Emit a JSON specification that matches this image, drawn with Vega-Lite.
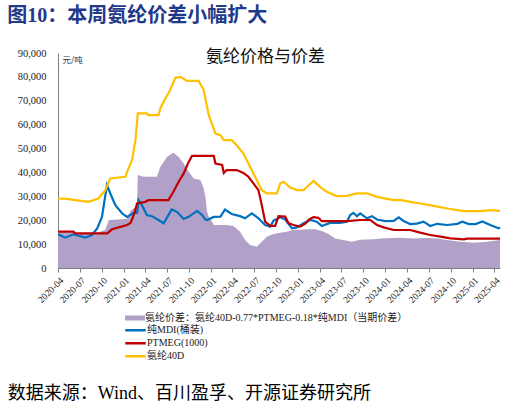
{
  "$schema": "https://vega.github.io/schema/vega-lite/v6.json",
  "width": 442,
  "height": 215,
  "padding": {"left": 7, "top": 6, "right": 5, "bottom": 4},
  "background": "white",
  "title": {"text": "图10：本周氨纶价差小幅扩大", "anchor": "start", "frame": "bounds", "font": "Liberation Serif, Noto Sans CJK SC", "fontSize": 20, "fontWeight": "bold", "color": "#1F3A8A", "offset": 22},
  "config": {"view": {"stroke": null}},
  "datasets": {
    "spread": [
      {"date": "2020-04-01", "value": 14900}, {"date": "2020-05-01", "value": 15000}, {"date": "2020-06-12", "value": 14800},
      {"date": "2020-08-07", "value": 14200}, {"date": "2020-09-17", "value": 14900}, {"date": "2020-10-02", "value": 15500},
      {"date": "2020-10-16", "value": 15900}, {"date": "2020-10-30", "value": 20000}, {"date": "2020-11-06", "value": 20100},
      {"date": "2020-12-11", "value": 20300}, {"date": "2021-01-08", "value": 20500}, {"date": "2021-01-15", "value": 20500},
      {"date": "2021-01-30", "value": 24000}, {"date": "2021-02-19", "value": 25500}, {"date": "2021-02-26", "value": 26000},
      {"date": "2021-03-01", "value": 38900}, {"date": "2021-03-25", "value": 38200}, {"date": "2021-05-20", "value": 38200},
      {"date": "2021-06-03", "value": 42300}, {"date": "2021-07-01", "value": 46500}, {"date": "2021-07-28", "value": 48200},
      {"date": "2021-08-19", "value": 46500}, {"date": "2021-09-09", "value": 43700}, {"date": "2021-09-30", "value": 40300},
      {"date": "2021-10-21", "value": 37500}, {"date": "2021-11-18", "value": 36800}, {"date": "2021-12-02", "value": 33300},
      {"date": "2021-12-09", "value": 29800}, {"date": "2021-12-16", "value": 23500}, {"date": "2021-12-23", "value": 21400},
      {"date": "2022-01-06", "value": 19400}, {"date": "2022-01-13", "value": 18000}, {"date": "2022-02-10", "value": 18000},
      {"date": "2022-03-08", "value": 18000}, {"date": "2022-04-05", "value": 17600}, {"date": "2022-05-03", "value": 15200},
      {"date": "2022-05-24", "value": 11700}, {"date": "2022-06-14", "value": 9600}, {"date": "2022-07-12", "value": 8900},
      {"date": "2022-08-02", "value": 11000}, {"date": "2022-08-23", "value": 13100}, {"date": "2022-09-20", "value": 14200},
      {"date": "2022-10-18", "value": 14800}, {"date": "2022-11-15", "value": 15200}, {"date": "2022-12-13", "value": 16000},
      {"date": "2023-01-10", "value": 16000}, {"date": "2023-02-08", "value": 16200}, {"date": "2023-03-13", "value": 16200},
      {"date": "2023-04-10", "value": 15500}, {"date": "2023-05-08", "value": 14200}, {"date": "2023-06-05", "value": 12400},
      {"date": "2023-07-09", "value": 11700}, {"date": "2023-08-14", "value": 11000}, {"date": "2023-09-18", "value": 11800},
      {"date": "2023-11-13", "value": 12000}, {"date": "2023-12-11", "value": 12400}, {"date": "2024-03-03", "value": 12700},
      {"date": "2024-04-28", "value": 12400}, {"date": "2024-06-23", "value": 12600}, {"date": "2024-08-05", "value": 12300},
      {"date": "2024-09-16", "value": 11700}, {"date": "2024-11-11", "value": 11000}, {"date": "2025-01-06", "value": 10600},
      {"date": "2025-03-01", "value": 11000}, {"date": "2025-04-25", "value": 11700}
    ],
    "lines": [
      {"series": "纯MDI(桶装)", "date": "2020-04-01", "value": 14100}, {"series": "纯MDI(桶装)", "date": "2020-05-01", "value": 12700},
      {"series": "纯MDI(桶装)", "date": "2020-06-05", "value": 14100}, {"series": "纯MDI(桶装)", "date": "2020-07-24", "value": 12700},
      {"series": "纯MDI(桶装)", "date": "2020-08-21", "value": 13800}, {"series": "纯MDI(桶装)", "date": "2020-09-12", "value": 16600},
      {"series": "纯MDI(桶装)", "date": "2020-10-02", "value": 21400}, {"series": "纯MDI(桶装)", "date": "2020-10-13", "value": 28400},
      {"series": "纯MDI(桶装)", "date": "2020-10-23", "value": 34700}, {"series": "纯MDI(桶装)", "date": "2020-11-06", "value": 31200},
      {"series": "纯MDI(桶装)", "date": "2020-11-27", "value": 26300}, {"series": "纯MDI(桶装)", "date": "2020-12-25", "value": 22900},
      {"series": "纯MDI(桶装)", "date": "2021-01-15", "value": 21400}, {"series": "纯MDI(桶装)", "date": "2021-02-12", "value": 23100},
      {"series": "纯MDI(桶装)", "date": "2021-02-26", "value": 23100}, {"series": "纯MDI(桶装)", "date": "2021-03-04", "value": 28400},
      {"series": "纯MDI(桶装)", "date": "2021-03-18", "value": 26300}, {"series": "纯MDI(桶装)", "date": "2021-04-08", "value": 22200},
      {"series": "纯MDI(桶装)", "date": "2021-04-29", "value": 21700}, {"series": "纯MDI(桶装)", "date": "2021-05-27", "value": 20100},
      {"series": "纯MDI(桶装)", "date": "2021-06-17", "value": 18700}, {"series": "纯MDI(桶装)", "date": "2021-07-21", "value": 24500},
      {"series": "纯MDI(桶装)", "date": "2021-08-12", "value": 23500}, {"series": "纯MDI(桶装)", "date": "2021-09-09", "value": 20500},
      {"series": "纯MDI(桶装)", "date": "2021-09-30", "value": 21400}, {"series": "纯MDI(桶装)", "date": "2021-11-04", "value": 23900},
      {"series": "纯MDI(桶装)", "date": "2021-11-25", "value": 22200}, {"series": "纯MDI(桶装)", "date": "2021-12-09", "value": 20300},
      {"series": "纯MDI(桶装)", "date": "2021-12-16", "value": 20100}, {"series": "纯MDI(桶装)", "date": "2022-01-13", "value": 21400},
      {"series": "纯MDI(桶装)", "date": "2022-02-10", "value": 21500}, {"series": "纯MDI(桶装)", "date": "2022-03-01", "value": 24500},
      {"series": "纯MDI(桶装)", "date": "2022-03-29", "value": 22600}, {"series": "纯MDI(桶装)", "date": "2022-05-03", "value": 21700},
      {"series": "纯MDI(桶装)", "date": "2022-05-24", "value": 20800}, {"series": "纯MDI(桶装)", "date": "2022-06-21", "value": 22900},
      {"series": "纯MDI(桶装)", "date": "2022-07-19", "value": 20800}, {"series": "纯MDI(桶装)", "date": "2022-08-16", "value": 18000},
      {"series": "纯MDI(桶装)", "date": "2022-09-06", "value": 17300}, {"series": "纯MDI(桶装)", "date": "2022-09-20", "value": 19800},
      {"series": "纯MDI(桶装)", "date": "2022-10-18", "value": 21200}, {"series": "纯MDI(桶装)", "date": "2022-11-08", "value": 20300},
      {"series": "纯MDI(桶装)", "date": "2022-12-06", "value": 16600}, {"series": "纯MDI(桶装)", "date": "2022-12-27", "value": 17000},
      {"series": "纯MDI(桶装)", "date": "2023-01-24", "value": 18700}, {"series": "纯MDI(桶装)", "date": "2023-02-22", "value": 20100},
      {"series": "纯MDI(桶装)", "date": "2023-03-20", "value": 19400}, {"series": "纯MDI(桶装)", "date": "2023-04-10", "value": 17600},
      {"series": "纯MDI(桶装)", "date": "2023-05-15", "value": 18900}, {"series": "纯MDI(桶装)", "date": "2023-06-26", "value": 18900},
      {"series": "纯MDI(桶装)", "date": "2023-07-24", "value": 19400}, {"series": "纯MDI(桶装)", "date": "2023-08-07", "value": 22200},
      {"series": "纯MDI(桶装)", "date": "2023-08-21", "value": 23100}, {"series": "纯MDI(桶装)", "date": "2023-09-04", "value": 21700},
      {"series": "纯MDI(桶装)", "date": "2023-09-18", "value": 22900}, {"series": "纯MDI(桶装)", "date": "2023-10-16", "value": 20800},
      {"series": "纯MDI(桶装)", "date": "2023-11-06", "value": 21700}, {"series": "纯MDI(桶装)", "date": "2023-11-27", "value": 20300},
      {"series": "纯MDI(桶装)", "date": "2024-01-01", "value": 19600}, {"series": "纯MDI(桶装)", "date": "2024-02-05", "value": 19700},
      {"series": "纯MDI(桶装)", "date": "2024-02-26", "value": 21200}, {"series": "纯MDI(桶装)", "date": "2024-03-17", "value": 19700},
      {"series": "纯MDI(桶装)", "date": "2024-04-14", "value": 18400}, {"series": "纯MDI(桶装)", "date": "2024-05-12", "value": 18600},
      {"series": "纯MDI(桶装)", "date": "2024-06-09", "value": 19400}, {"series": "纯MDI(桶装)", "date": "2024-07-07", "value": 17600},
      {"series": "纯MDI(桶装)", "date": "2024-08-05", "value": 18500}, {"series": "纯MDI(桶装)", "date": "2024-09-16", "value": 18000},
      {"series": "纯MDI(桶装)", "date": "2024-10-28", "value": 18500}, {"series": "纯MDI(桶装)", "date": "2024-11-18", "value": 19400},
      {"series": "纯MDI(桶装)", "date": "2024-12-16", "value": 18400}, {"series": "纯MDI(桶装)", "date": "2025-01-13", "value": 18400},
      {"series": "纯MDI(桶装)", "date": "2025-02-10", "value": 19500}, {"series": "纯MDI(桶装)", "date": "2025-03-15", "value": 18000},
      {"series": "纯MDI(桶装)", "date": "2025-04-19", "value": 16600}, {"series": "纯MDI(桶装)", "date": "2025-04-25", "value": 17000},

      {"series": "PTMEG(1000)", "date": "2020-04-01", "value": 15200}, {"series": "PTMEG(1000)", "date": "2020-06-05", "value": 15200},
      {"series": "PTMEG(1000)", "date": "2020-06-12", "value": 14500}, {"series": "PTMEG(1000)", "date": "2020-10-24", "value": 14500},
      {"series": "PTMEG(1000)", "date": "2020-11-13", "value": 16200}, {"series": "PTMEG(1000)", "date": "2020-12-11", "value": 17000},
      {"series": "PTMEG(1000)", "date": "2021-01-15", "value": 18000}, {"series": "PTMEG(1000)", "date": "2021-01-30", "value": 18900},
      {"series": "PTMEG(1000)", "date": "2021-02-12", "value": 22200}, {"series": "PTMEG(1000)", "date": "2021-02-26", "value": 27000},
      {"series": "PTMEG(1000)", "date": "2021-04-01", "value": 27700}, {"series": "PTMEG(1000)", "date": "2021-04-15", "value": 28400},
      {"series": "PTMEG(1000)", "date": "2021-07-07", "value": 28400}, {"series": "PTMEG(1000)", "date": "2021-07-28", "value": 31900},
      {"series": "PTMEG(1000)", "date": "2021-08-19", "value": 36100}, {"series": "PTMEG(1000)", "date": "2021-09-09", "value": 39600},
      {"series": "PTMEG(1000)", "date": "2021-09-30", "value": 44400}, {"series": "PTMEG(1000)", "date": "2021-10-14", "value": 46900},
      {"series": "PTMEG(1000)", "date": "2022-01-13", "value": 46900}, {"series": "PTMEG(1000)", "date": "2022-01-20", "value": 43700},
      {"series": "PTMEG(1000)", "date": "2022-02-17", "value": 43100}, {"series": "PTMEG(1000)", "date": "2022-02-24", "value": 39800},
      {"series": "PTMEG(1000)", "date": "2022-03-08", "value": 41000}, {"series": "PTMEG(1000)", "date": "2022-04-19", "value": 41000},
      {"series": "PTMEG(1000)", "date": "2022-05-17", "value": 39800}, {"series": "PTMEG(1000)", "date": "2022-06-07", "value": 38200},
      {"series": "PTMEG(1000)", "date": "2022-06-28", "value": 35400}, {"series": "PTMEG(1000)", "date": "2022-07-19", "value": 32600},
      {"series": "PTMEG(1000)", "date": "2022-08-02", "value": 26300}, {"series": "PTMEG(1000)", "date": "2022-08-16", "value": 19400},
      {"series": "PTMEG(1000)", "date": "2022-09-06", "value": 17600}, {"series": "PTMEG(1000)", "date": "2022-09-27", "value": 17600},
      {"series": "PTMEG(1000)", "date": "2022-10-11", "value": 21700}, {"series": "PTMEG(1000)", "date": "2022-11-08", "value": 21500},
      {"series": "PTMEG(1000)", "date": "2022-11-22", "value": 18700}, {"series": "PTMEG(1000)", "date": "2022-12-13", "value": 18000},
      {"series": "PTMEG(1000)", "date": "2023-01-10", "value": 17300}, {"series": "PTMEG(1000)", "date": "2023-02-01", "value": 18700},
      {"series": "PTMEG(1000)", "date": "2023-02-15", "value": 20300}, {"series": "PTMEG(1000)", "date": "2023-03-06", "value": 21300},
      {"series": "PTMEG(1000)", "date": "2023-03-27", "value": 21000}, {"series": "PTMEG(1000)", "date": "2023-04-10", "value": 19600},
      {"series": "PTMEG(1000)", "date": "2023-07-24", "value": 19600}, {"series": "PTMEG(1000)", "date": "2023-09-18", "value": 20100},
      {"series": "PTMEG(1000)", "date": "2023-10-30", "value": 20100}, {"series": "PTMEG(1000)", "date": "2023-11-27", "value": 18000},
      {"series": "PTMEG(1000)", "date": "2023-12-25", "value": 17000}, {"series": "PTMEG(1000)", "date": "2024-02-05", "value": 15900},
      {"series": "PTMEG(1000)", "date": "2024-04-14", "value": 15900}, {"series": "PTMEG(1000)", "date": "2024-05-26", "value": 14800},
      {"series": "PTMEG(1000)", "date": "2024-07-07", "value": 13800}, {"series": "PTMEG(1000)", "date": "2024-08-19", "value": 13100},
      {"series": "PTMEG(1000)", "date": "2024-09-30", "value": 12400}, {"series": "PTMEG(1000)", "date": "2024-11-25", "value": 12000},
      {"series": "PTMEG(1000)", "date": "2024-12-09", "value": 12300}, {"series": "PTMEG(1000)", "date": "2025-04-25", "value": 12300},

      {"series": "氨纶40D", "date": "2020-04-01", "value": 29100}, {"series": "氨纶40D", "date": "2020-05-01", "value": 29000},
      {"series": "氨纶40D", "date": "2020-06-12", "value": 28400}, {"series": "氨纶40D", "date": "2020-08-07", "value": 27700},
      {"series": "氨纶40D", "date": "2020-09-17", "value": 29100}, {"series": "氨纶40D", "date": "2020-10-16", "value": 32600},
      {"series": "氨纶40D", "date": "2020-11-06", "value": 37500}, {"series": "氨纶40D", "date": "2021-01-08", "value": 38200},
      {"series": "氨纶40D", "date": "2021-01-21", "value": 41700}, {"series": "氨纶40D", "date": "2021-02-05", "value": 45100},
      {"series": "氨纶40D", "date": "2021-02-19", "value": 53500}, {"series": "氨纶40D", "date": "2021-03-01", "value": 64700},
      {"series": "氨纶40D", "date": "2021-04-08", "value": 64700}, {"series": "氨纶40D", "date": "2021-04-15", "value": 64000},
      {"series": "氨纶40D", "date": "2021-05-27", "value": 64000}, {"series": "氨纶40D", "date": "2021-06-03", "value": 66800},
      {"series": "氨纶40D", "date": "2021-06-24", "value": 70900}, {"series": "氨纶40D", "date": "2021-07-14", "value": 74400},
      {"series": "氨纶40D", "date": "2021-08-05", "value": 79600}, {"series": "氨纶40D", "date": "2021-08-26", "value": 80000},
      {"series": "氨纶40D", "date": "2021-09-23", "value": 78300}, {"series": "氨纶40D", "date": "2021-11-11", "value": 78300},
      {"series": "氨纶40D", "date": "2021-12-02", "value": 74400}, {"series": "氨纶40D", "date": "2021-12-23", "value": 64000},
      {"series": "氨纶40D", "date": "2022-01-20", "value": 56300}, {"series": "氨纶40D", "date": "2022-02-10", "value": 55600},
      {"series": "氨纶40D", "date": "2022-02-24", "value": 53500}, {"series": "氨纶40D", "date": "2022-03-29", "value": 53500},
      {"series": "氨纶40D", "date": "2022-04-19", "value": 51400}, {"series": "氨纶40D", "date": "2022-05-17", "value": 47900},
      {"series": "氨纶40D", "date": "2022-06-07", "value": 43700}, {"series": "氨纶40D", "date": "2022-06-28", "value": 39600},
      {"series": "氨纶40D", "date": "2022-08-02", "value": 32600}, {"series": "氨纶40D", "date": "2022-08-23", "value": 31200},
      {"series": "氨纶40D", "date": "2022-10-04", "value": 31200}, {"series": "氨纶40D", "date": "2022-10-18", "value": 35400},
      {"series": "氨纶40D", "date": "2022-11-01", "value": 36100}, {"series": "氨纶40D", "date": "2022-11-29", "value": 33700},
      {"series": "氨纶40D", "date": "2022-12-27", "value": 32600}, {"series": "氨纶40D", "date": "2023-01-24", "value": 32600},
      {"series": "氨纶40D", "date": "2023-02-08", "value": 34000}, {"series": "氨纶40D", "date": "2023-03-06", "value": 36500},
      {"series": "氨纶40D", "date": "2023-04-03", "value": 34000}, {"series": "氨纶40D", "date": "2023-05-01", "value": 31900},
      {"series": "氨纶40D", "date": "2023-06-12", "value": 30100}, {"series": "氨纶40D", "date": "2023-07-24", "value": 30200},
      {"series": "氨纶40D", "date": "2023-09-04", "value": 31200}, {"series": "氨纶40D", "date": "2023-10-16", "value": 31200},
      {"series": "氨纶40D", "date": "2023-11-27", "value": 29800}, {"series": "氨纶40D", "date": "2024-02-05", "value": 28400},
      {"series": "氨纶40D", "date": "2024-03-03", "value": 28500}, {"series": "氨纶40D", "date": "2024-04-14", "value": 27700},
      {"series": "氨纶40D", "date": "2024-05-26", "value": 27000}, {"series": "氨纶40D", "date": "2024-07-21", "value": 26000},
      {"series": "氨纶40D", "date": "2024-09-16", "value": 24900}, {"series": "氨纶40D", "date": "2024-11-25", "value": 23800},
      {"series": "氨纶40D", "date": "2025-02-03", "value": 23800}, {"series": "氨纶40D", "date": "2025-03-15", "value": 24200},
      {"series": "氨纶40D", "date": "2025-04-25", "value": 23900}
    ]
  },
  "layer": [
    {
      "encoding": {
        "x": {
          "field": "date", "type": "temporal",
          "scale": {"domain": [{"year": 2020, "month": 4, "date": 1}, {"year": 2025, "month": 4, "date": 25}]},
          "axis": {
            "format": "%Y-%m", "tickCount": {"interval": "month", "step": 3},
            "labelAngle": -45, "labelFont": "Liberation Serif", "labelFontSize": 9.5, "labelColor": "#222",
            "labelFlush": false, "labelOverlap": false, "labelPadding": 3,
            "domainColor": "#808080", "tickColor": "#808080", "tickSize": 4, "grid": false,
            "title": "数据来源：Wind、百川盈孚、开源证券研究所",
            "titleFont": "Liberation Serif, Noto Sans CJK SC", "titleFontSize": 18, "titleFontWeight": "normal", "titleColor": "#000",
            "titleAlign": "left", "titleAnchor": "start", "titleX": -50.7, "titleY": 125, "titleBaseline": "middle"
          }
        },
        "y": {
          "field": "value", "type": "quantitative",
          "scale": {"domain": [0, 90000]},
          "axis": {
            "values": [0, 10000, 20000, 30000, 40000, 50000, 60000, 70000, 80000, 90000],
            "format": ",.0f", "labelFont": "Liberation Serif", "labelFontSize": 10.5, "labelColor": "#222", "labelPadding": 12,
            "labelOverlap": false, "ticks": false, "domainColor": "#808080", "grid": false,
            "title": "元/吨", "titleAngle": 0, "titleX": 4, "titleY": 6, "titleAlign": "left", "titleBaseline": "middle",
            "titleFont": "Noto Sans CJK SC", "titleFontSize": 8.5, "titleFontWeight": "normal", "titleColor": "#333"
          }
        }
      },
      "layer": [
        {
          "data": {"name": "spread"},
          "mark": {"type": "area", "interpolate": "linear"},
          "encoding": {
            "fill": {
              "datum": "氨纶价差：氨纶40D-0.77*PTMEG-0.18*纯MDI（当期价差）",
              "scale": {"range": ["#B1A0C7"]},
              "legend": {
                "orient": "none", "legendX": 67, "legendY": 255, "title": null, "padding": 0,
                "symbolType": "M-1,-0.25H1V0.25H-1Z", "symbolSize": 400, "symbolStrokeWidth": 0,
                "labelFont": "Liberation Serif, Noto Sans CJK SC", "labelFontSize": 10, "labelColor": "#222",
                "labelLimit": 400, "labelOffset": 0
              }
            }
          }
        },
        {
          "data": {"name": "lines"},
          "transform": [{"filter": "datum.series === '纯MDI(桶装)'"}],
          "mark": {"type": "line", "strokeWidth": 2.2},
          "encoding": {
            "stroke": {
              "field": "series", "type": "nominal",
              "scale": {"domain": ["纯MDI(桶装)", "PTMEG(1000)", "氨纶40D"], "range": ["#0070C0", "#C00000", "#FFC000"]},
              "legend": {
                "orient": "none", "legendX": 66, "legendY": 272, "title": null, "padding": 0, "direction": "vertical",
                "symbolType": "stroke", "symbolSize": 420, "symbolStrokeWidth": 2.5, "rowPadding": 2, "clipHeight": 10.3,
                "labelFont": "Liberation Serif, Noto Sans CJK SC", "labelFontSize": 10, "labelColor": "#222",
                "labelLimit": 400, "labelOffset": 0
              }
            }
          }
        },
        {
          "data": {"name": "lines"},
          "transform": [{"filter": "datum.series === 'PTMEG(1000)'"}],
          "mark": {"type": "line", "strokeWidth": 2.2},
          "encoding": {
            "stroke": {"field": "series", "type": "nominal", "scale": {"domain": ["纯MDI(桶装)", "PTMEG(1000)", "氨纶40D"], "range": ["#0070C0", "#C00000", "#FFC000"]}}
          }
        },
        {
          "data": {"name": "lines"},
          "transform": [{"filter": "datum.series === '氨纶40D'"}],
          "mark": {"type": "line", "strokeWidth": 2.2},
          "encoding": {
            "stroke": {"field": "series", "type": "nominal", "scale": {"domain": ["纯MDI(桶装)", "PTMEG(1000)", "氨纶40D"], "range": ["#0070C0", "#C00000", "#FFC000"]}}
          }
        }
      ]
    },
    {
      "data": {"values": [{"label": "氨纶价格与价差"}]},
      "mark": {"type": "text", "font": "Noto Sans CJK SC", "fontSize": 17, "color": "#111", "align": "center", "baseline": "middle"},
      "encoding": {
        "x": {
          "datum": {"year": 2022, "month": 8, "date": 18}, "type": "temporal",
          "axis": {
            "format": "%Y-%m", "tickCount": {"interval": "month", "step": 3},
            "labelAngle": -45, "labelFont": "Liberation Serif", "labelFontSize": 9.5, "labelColor": "#222",
            "labelFlush": false, "labelOverlap": false, "labelPadding": 3,
            "domainColor": "#808080", "tickColor": "#808080", "tickSize": 4, "grid": false,
            "title": "数据来源：Wind、百川盈孚、开源证券研究所",
            "titleFont": "Liberation Serif, Noto Sans CJK SC", "titleFontSize": 18, "titleFontWeight": "normal", "titleColor": "#000",
            "titleAlign": "left", "titleAnchor": "start", "titleX": -50.7, "titleY": 125, "titleBaseline": "middle"
          }
        },
        "y": {
          "datum": 88200, "type": "quantitative",
          "axis": {
            "values": [0, 10000, 20000, 30000, 40000, 50000, 60000, 70000, 80000, 90000],
            "format": ",.0f", "labelFont": "Liberation Serif", "labelFontSize": 10.5, "labelColor": "#222", "labelPadding": 12,
            "labelOverlap": false, "ticks": false, "domainColor": "#808080", "grid": false,
            "title": "元/吨", "titleAngle": 0, "titleX": 4, "titleY": 6, "titleAlign": "left", "titleBaseline": "middle",
            "titleFont": "Noto Sans CJK SC", "titleFontSize": 8.5, "titleFontWeight": "normal", "titleColor": "#333"
          }
        },
        "text": {"field": "label", "type": "nominal"}
      }
    }
  ]
}
